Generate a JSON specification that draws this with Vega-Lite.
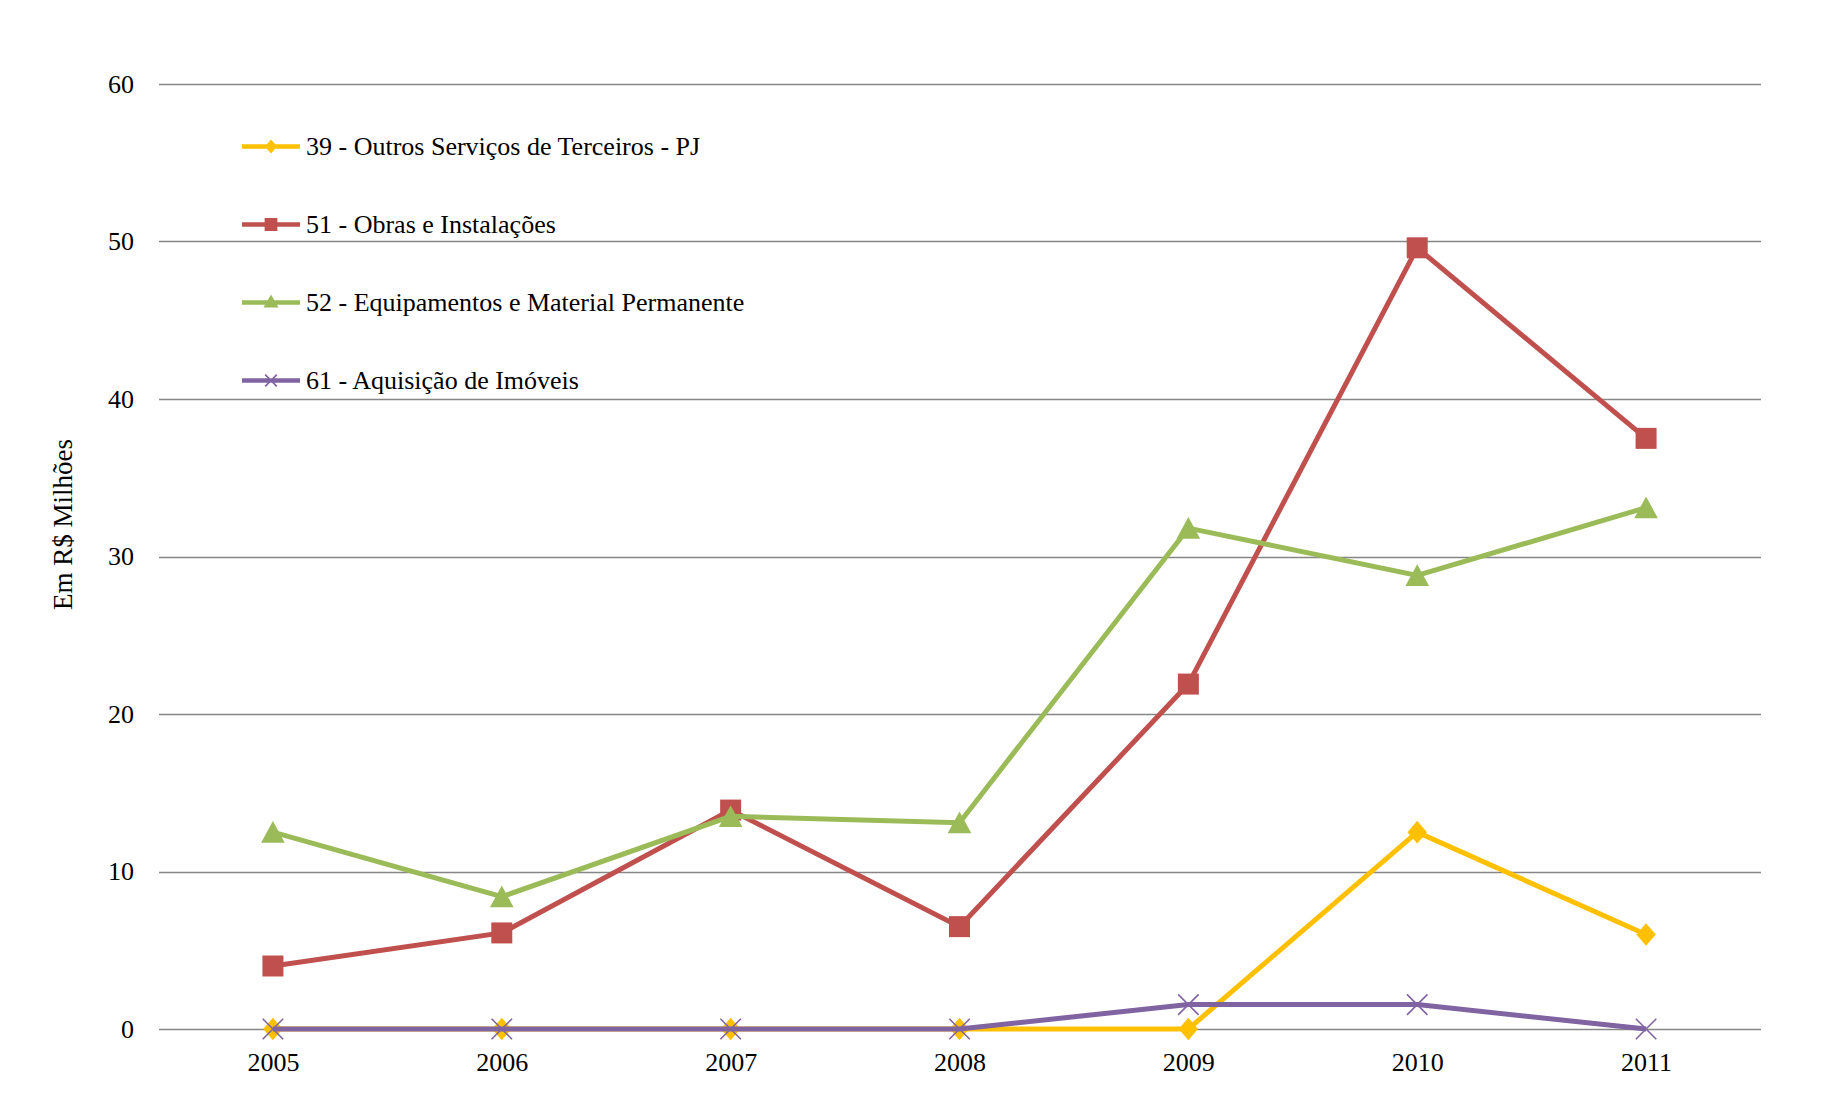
{
  "$schema": "https://vega.github.io/schema/vega-lite/v6.json",
  "width": 1602,
  "height": 945,
  "autosize": {"type": "none"},
  "padding": {"left": 158.5, "top": 84, "right": 66.5, "bottom": 84},
  "background": "white",
  "config": {"view": {"stroke": null}},
  "title": {
    "text": "Valores em R$ Milhões ajustados monetariamente pelo IPCA até 31/12/2011",
    "font": "Liberation Serif",
    "fontSize": 26,
    "fontWeight": "normal",
    "color": "black",
    "anchor": "middle",
    "frame": "group",
    "baseline": "alphabetic",
    "offset": 79,
    "dx": -33
  },
  "data": {
    "values": [
      {"ano": "2005", "serie": "39 - Outros Serviços de Terceiros - PJ", "valor": 0},
      {"ano": "2006", "serie": "39 - Outros Serviços de Terceiros - PJ", "valor": 0},
      {"ano": "2007", "serie": "39 - Outros Serviços de Terceiros - PJ", "valor": 0},
      {"ano": "2008", "serie": "39 - Outros Serviços de Terceiros - PJ", "valor": 0},
      {"ano": "2009", "serie": "39 - Outros Serviços de Terceiros - PJ", "valor": 0},
      {"ano": "2010", "serie": "39 - Outros Serviços de Terceiros - PJ", "valor": 12.5},
      {"ano": "2011", "serie": "39 - Outros Serviços de Terceiros - PJ", "valor": 6.0},
      {"ano": "2005", "serie": "51 - Obras e Instalações", "valor": 4.0},
      {"ano": "2006", "serie": "51 - Obras e Instalações", "valor": 6.1},
      {"ano": "2007", "serie": "51 - Obras e Instalações", "valor": 13.9},
      {"ano": "2008", "serie": "51 - Obras e Instalações", "valor": 6.5},
      {"ano": "2009", "serie": "51 - Obras e Instalações", "valor": 21.9},
      {"ano": "2010", "serie": "51 - Obras e Instalações", "valor": 49.6},
      {"ano": "2011", "serie": "51 - Obras e Instalações", "valor": 37.5},
      {"ano": "2005", "serie": "52 - Equipamentos e Material Permanente", "valor": 12.5},
      {"ano": "2006", "serie": "52 - Equipamentos e Material Permanente", "valor": 8.4},
      {"ano": "2007", "serie": "52 - Equipamentos e Material Permanente", "valor": 13.5},
      {"ano": "2008", "serie": "52 - Equipamentos e Material Permanente", "valor": 13.1},
      {"ano": "2009", "serie": "52 - Equipamentos e Material Permanente", "valor": 31.8},
      {"ano": "2010", "serie": "52 - Equipamentos e Material Permanente", "valor": 28.8},
      {"ano": "2011", "serie": "52 - Equipamentos e Material Permanente", "valor": 33.1},
      {"ano": "2005", "serie": "61 - Aquisição de Imóveis", "valor": 0},
      {"ano": "2006", "serie": "61 - Aquisição de Imóveis", "valor": 0},
      {"ano": "2007", "serie": "61 - Aquisição de Imóveis", "valor": 0},
      {"ano": "2008", "serie": "61 - Aquisição de Imóveis", "valor": 0},
      {"ano": "2009", "serie": "61 - Aquisição de Imóveis", "valor": 1.55},
      {"ano": "2010", "serie": "61 - Aquisição de Imóveis", "valor": 1.55},
      {"ano": "2011", "serie": "61 - Aquisição de Imóveis", "valor": 0}
    ]
  },
  "encoding": {
    "x": {
      "field": "ano",
      "type": "ordinal",
      "scale": {"type": "point", "padding": 0.5},
      "axis": {
        "title": null,
        "labelAngle": 0,
        "domain": false,
        "ticks": false,
        "grid": false,
        "labelFont": "Liberation Serif",
        "labelFontSize": 26,
        "labelColor": "black",
        "labelPadding": 20
      }
    },
    "y": {
      "field": "valor",
      "type": "quantitative",
      "scale": {"domain": [0, 60], "nice": false},
      "axis": {
        "title": "Em R$ Milhões",
        "values": [0, 10, 20, 30, 40, 50, 60],
        "domain": false,
        "ticks": false,
        "grid": true,
        "gridColor": "#868686",
        "gridWidth": 1.5,
        "gridOpacity": 1,
        "labelFont": "Liberation Serif",
        "labelFontSize": 26,
        "labelColor": "black",
        "labelPadding": 25,
        "titleFont": "Liberation Serif",
        "titleFontSize": 27,
        "titleFontWeight": "normal",
        "titleColor": "black",
        "titlePadding": 30,
        "titleY": 440
      }
    }
  },
  "layer": [
    {
      "transform": [{"filter": {"field": "serie", "equal": "39 - Outros Serviços de Terceiros - PJ"}}],
      "mark": {"type": "line", "strokeWidth": 5, "color": "#FFC000"}
    },
    {
      "transform": [{"filter": {"field": "serie", "equal": "39 - Outros Serviços de Terceiros - PJ"}}],
      "mark": {"type": "point", "filled": true, "opacity": 1, "color": "#FFC000", "shape": "M0,-1.1L0.95,0L0,1.1L-0.95,0Z", "size": 420}
    },
    {
      "transform": [{"filter": {"field": "serie", "equal": "51 - Obras e Instalações"}}],
      "mark": {"type": "line", "strokeWidth": 5, "color": "#C0504D"}
    },
    {
      "transform": [{"filter": {"field": "serie", "equal": "51 - Obras e Instalações"}}],
      "mark": {"type": "point", "filled": true, "opacity": 1, "color": "#C0504D", "shape": "square", "size": 441}
    },
    {
      "transform": [{"filter": {"field": "serie", "equal": "52 - Equipamentos e Material Permanente"}}],
      "mark": {"type": "line", "strokeWidth": 5, "color": "#9BBB59"}
    },
    {
      "transform": [{"filter": {"field": "serie", "equal": "52 - Equipamentos e Material Permanente"}}],
      "mark": {"type": "point", "filled": true, "opacity": 1, "color": "#9BBB59", "shape": "M0,-0.95L1,0.9L-1,0.9Z", "size": 560}
    },
    {
      "transform": [{"filter": {"field": "serie", "equal": "61 - Aquisição de Imóveis"}}],
      "mark": {"type": "line", "strokeWidth": 5, "color": "#8064A2"}
    },
    {
      "transform": [{"filter": {"field": "serie", "equal": "61 - Aquisição de Imóveis"}}],
      "mark": {"type": "point", "filled": false, "opacity": 1, "color": "#8064A2", "strokeWidth": 1.6, "shape": "M-1,-1L1,1M-1,1L1,-1", "size": 420}
    },
    {
      "mark": {"type": "point", "filled": true, "opacity": 0, "size": 3364},
      "encoding": {
        "color": {
          "field": "serie",
          "type": "nominal",
          "scale": {
            "domain": ["39 - Outros Serviços de Terceiros - PJ", "51 - Obras e Instalações", "52 - Equipamentos e Material Permanente", "61 - Aquisição de Imóveis"],
            "range": ["#FFC000", "#C0504D", "#9BBB59", "#8064A2"]
          },
          "legend": {
            "title": null,
            "orient": "none",
            "legendX": 83.5,
            "legendY": 33.5,
            "padding": 0,
            "symbolSize": 3364,
            "symbolStrokeWidth": 0,
            "symbolOpacity": 1,
            "labelFont": "Liberation Serif",
            "labelFontSize": 26,
            "labelColor": "black",
            "labelOffset": 6,
            "labelLimit": 1000,
            "rowPadding": 36
          }
        },
        "shape": {
          "field": "serie",
          "type": "nominal",
          "scale": {
            "domain": ["39 - Outros Serviços de Terceiros - PJ", "51 - Obras e Instalações", "52 - Equipamentos e Material Permanente", "61 - Aquisição de Imóveis"],
            "range": [
              "M-1,-0.078L1,-0.078L1,0.078L-1,0.078Z M-0.21,0L0,-0.24L0.21,0L0,0.24Z",
              "M-1,-0.078L1,-0.078L1,0.078L-1,0.078Z M-0.22,-0.22L0.22,-0.22L0.22,0.22L-0.22,0.22Z",
              "M-1,-0.078L1,-0.078L1,0.078L-1,0.078Z M0,-0.28L0.26,0.17L-0.26,0.17Z",
              "M-1,-0.078L1,-0.078L1,0.078L-1,0.078Z M-0.22,-0.18L-0.18,-0.22L0.22,0.18L0.18,0.22Z M-0.22,0.18L0.18,-0.22L0.22,-0.18L-0.18,0.22Z"
            ]
          },
          "legend": {
            "title": null,
            "orient": "none",
            "legendX": 83.5,
            "legendY": 33.5,
            "padding": 0,
            "symbolSize": 3364,
            "symbolStrokeWidth": 0,
            "symbolOpacity": 1,
            "labelFont": "Liberation Serif",
            "labelFontSize": 26,
            "labelColor": "black",
            "labelOffset": 6,
            "labelLimit": 1000,
            "rowPadding": 36
          }
        }
      }
    }
  ]
}
